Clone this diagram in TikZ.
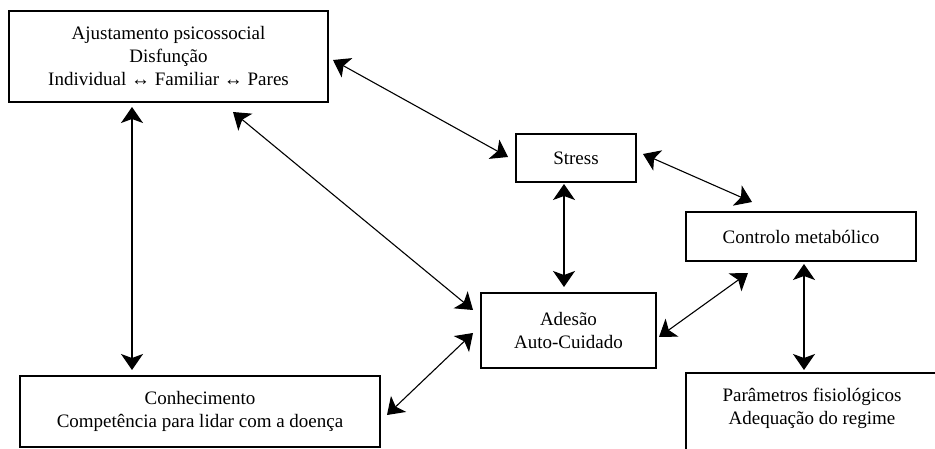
\documentclass[tikz,border=0pt]{standalone}
\usepackage{fontspec}
\setmainfont{Liberation Serif}
\usetikzlibrary{arrows.meta}
\begin{document}
\begin{tikzpicture}[x=1pt,y=-1pt,
  box/.style={draw,line width=1.2pt,align=center,inner sep=0pt,
    font=\fontsize{19}{23}\selectfont},
  biarrow/.style={line width=1.1pt,
    {Stealth[length=16pt,width=22pt,inset=4pt]}-{Stealth[length=16pt,width=22pt,inset=4pt]}}]
\useasboundingbox (0,0) rectangle (935,449);
\clip (0,0) rectangle (935,449);
\node[box,minimum width=319pt,minimum height=91pt] (ajust) at (168.5,56.5)
  {Ajustamento psicossocial\\Disfunção\\Individual ↔ Familiar ↔ Pares};
\node[box,minimum width=120pt,minimum height=48pt] (stress) at (576,158) {Stress};
\node[box,minimum width=230pt,minimum height=49pt] (ctrl) at (801,236.5) {Controlo metabólico};
\node[box,minimum width=175pt,minimum height=75pt] (ades) at (568.5,330.5) {Adesão\\Auto-Cuidado};
\node[box,minimum width=360pt,minimum height=71pt] (conh) at (200,411.5)
  {Conhecimento\\Competência para lidar com a doença};
\node[box,minimum width=252pt,minimum height=90pt] (param) at (812,418)
  {Parâmetros fisiológicos\\Adequação do regime\\\mbox{}};
% arrow tips
\coordinate (a1s) at (132,107); \coordinate (a1e) at (132,370);
\coordinate (a2s) at (333,60);  \coordinate (a2e) at (508,157);
\coordinate (a3s) at (233,112); \coordinate (a3e) at (473,310);
\coordinate (a4s) at (564,184); \coordinate (a4e) at (564,287);
\coordinate (a5s) at (643,154); \coordinate (a5e) at (752,202);
\coordinate (a6s) at (748,273); \coordinate (a6e) at (659,337);
\coordinate (a7s) at (804,264); \coordinate (a7e) at (804,370);
\coordinate (a8s) at (473,333); \coordinate (a8e) at (387,415);
\draw[biarrow] (a1s) -- (a1e);
\draw[biarrow] (a2s) -- (a2e);
\draw[biarrow] (a3s) -- (a3e);
\draw[biarrow] (a4s) -- (a4e);
\draw[biarrow] (a5s) -- (a5e);
\draw[biarrow] (a6s) -- (a6e);
\draw[biarrow] (a7s) -- (a7e);
\draw[biarrow] (a8s) -- (a8e);
\end{tikzpicture}
\end{document}
